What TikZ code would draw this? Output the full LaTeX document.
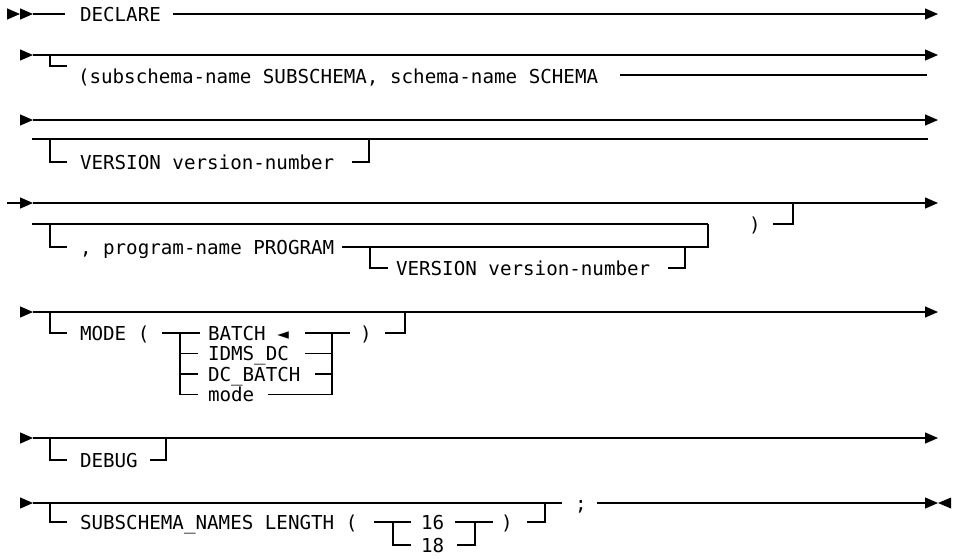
\documentclass[tikz,border=0pt]{standalone}
\usepackage{fontspec}
\setmonofont{DejaVu Sans Mono}
\usetikzlibrary{arrows.meta}
\begin{document}
\begin{tikzpicture}[x=1pt,y=-1pt,
  rail/.style={line width=1.2pt},
  railarrow/.style={rail,-{Triangle[length=13pt,width=11pt]}},
  lbl/.style={anchor=base west,inner sep=0pt,outer sep=0pt,font=\ttfamily\fontsize{19.2}{23}\selectfont}]
\useasboundingbox (0,0) rectangle (956,558);

% Row 1
\draw[railarrow] (7,14) -- (20,14);
\draw[railarrow] (20,14) -- (33,14);
\draw[rail] (33,14) -- (65,14);
\node[lbl] (declare) at (80,21) {DECLARE};
\draw[railarrow] (173,14) -- (938,14);

% Row 2
\draw[railarrow] (20,55) -- (33,55);
\draw[railarrow] (33,55) -- (938,55);
\draw[rail] (50,55) |- (67,66);
\node[lbl] (subschema) at (78,83) {(subschema-name SUBSCHEMA, schema-name SCHEMA};
\draw[rail] (620,75) -- (927,75);

% Row 3
\draw[railarrow] (20,120) -- (33,120);
\draw[railarrow] (33,120) -- (938,120);
\draw[rail] (32,139) -- (928,139);
\draw[rail] (50,139) |- (67,162);
\node[lbl] (ver1) at (80,169) {VERSION version-number};
\draw[rail] (352,162) -| (369,139);

% Row 4
\draw[railarrow] (7,203) -- (33,203);
\draw[railarrow] (33,203) -- (938,203);
\draw[rail] (32,224) -- (708,224);
\draw[rail] (50,224) |- (67,247);
\node[lbl] (prog) at (80,254) {, program-name PROGRAM};
\draw[rail] (342,247) -| (708,224);
\draw[rail] (370,247) |- (388,268);
\node[lbl] (ver2) at (396,275) {VERSION version-number};
\draw[rail] (668,268) -| (685,247);
\node[lbl] (rp1) at (749,231) {)};
\draw[rail] (773,224) -| (793,203);

% Row 5
\draw[railarrow] (20,312) -- (33,312);
\draw[railarrow] (33,312) -- (938,312);
\draw[rail] (50,312) |- (67,333);
\node[lbl] (mode) at (80,340) {MODE (};
\draw[rail] (162,333) -- (200,333);
\draw[rail] (180,333) |- (198,394.5);
\draw[rail] (180,353.5) -- (198,353.5);
\draw[rail] (180,374) -- (198,374);
\node[lbl] (batch) at (208,340) {BATCH ◄};
\node[lbl] (idms) at (208,360.5) {IDMS\_DC};
\node[lbl] (dcb) at (208,381) {DC\_BATCH};
\node[lbl] (mv) at (208,401.5) {mode};
\draw[rail] (305,333) -- (350,333);
\draw[rail] (305,353.5) -- (332,353.5);
\draw[rail] (315,374) -- (332,374);
\draw[rail] (268,394.5) -| (332,333);
\node[lbl] (rp2) at (360,340) {)};
\draw[rail] (385,333) -| (405,312);

% Row 6
\draw[railarrow] (20,438) -- (33,438);
\draw[railarrow] (33,438) -- (938,438);
\draw[rail] (50,438) |- (67,460);
\node[lbl] (debug) at (80,467) {DEBUG};
\draw[rail] (150,460) -| (166,438);

% Row 7
\draw[railarrow] (20,503) -- (33,503);
\draw[rail] (33,503) -- (562,503);
\node[lbl] (semi) at (575,510) {;};
\draw[railarrow] (597,503) -- (938,503);
\fill (951,497.5) -- (938,503) -- (951,508.5) -- cycle;
\draw[rail] (50,503) |- (67,522);
\node[lbl] (ssn) at (80,529) {SUBSCHEMA\_NAMES LENGTH (};
\draw[rail] (374,522) -- (411,522);
\draw[rail] (393,522) |- (411,545);
\node[lbl] (n16) at (421,529) {16};
\node[lbl] (n18) at (421,552) {18};
\draw[rail] (455,522) -- (493,522);
\draw[rail] (457,545) -| (475,522);
\node[lbl] (rp3) at (501,529) {)};
\draw[rail] (527,522) -| (545,503);
\end{tikzpicture}
\end{document}
